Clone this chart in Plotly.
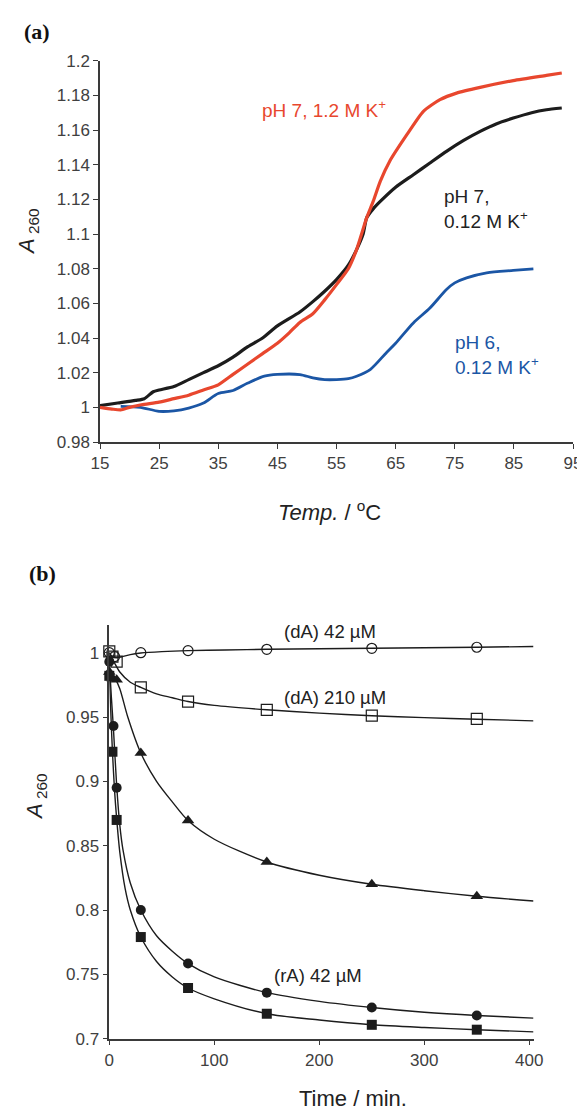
import plotly.graph_objects as go

# ---------------- Panel (a): melting curves ----------------
temp_black = [15, 18, 21, 22.5, 24, 25, 27.5, 30, 32.5, 35, 37.5, 40, 42.5, 45, 48.8, 51,
              53, 55, 57, 58.4, 59.5, 60.1, 61.2, 62.4, 65, 68, 70.8, 73.6, 76.5, 79.3,
              82, 84.9, 88, 90.5, 93.1]
a_black = [1.001, 1.0025, 1.004, 1.005, 1.009, 1.010, 1.012, 1.016, 1.020, 1.024, 1.029,
           1.035, 1.040, 1.047, 1.055, 1.061, 1.067, 1.0737, 1.082, 1.091, 1.100, 1.1093,
           1.1145, 1.1188, 1.127, 1.1342, 1.141, 1.1477, 1.154, 1.1592, 1.1635, 1.1669,
           1.1700, 1.1717, 1.1727]

temp_red = [15, 17, 18.5, 20, 22, 25, 27.5, 30, 32.5, 35, 37.5, 40, 42.5, 45, 47, 48.8,
            51, 53, 55, 57, 58.4, 60.1, 61.2, 62.4, 64, 66.9, 69.7, 72.5, 75.3, 79.3,
            84.9, 90.5, 93.1]
a_red = [1.000, 0.999, 0.9985, 1.000, 1.0015, 1.003, 1.005, 1.007, 1.010, 1.013, 1.019,
         1.025, 1.031, 1.037, 1.043, 1.049, 1.054, 1.062, 1.0708, 1.080, 1.091, 1.1093,
         1.1188, 1.1304, 1.142, 1.1573, 1.1708, 1.1775, 1.1813, 1.1846, 1.1885, 1.1915,
         1.1929]

temp_blue = [18.5, 21.8, 25, 27.5, 30, 32.5, 35, 37.5, 40, 42.8, 45, 48.8, 51, 53, 55, 57,
             58.4, 60.7, 63.4, 65, 68, 70.8, 73.6, 75, 77, 80.4, 84.9, 88.3]
a_blue = [1.0006, 1.000, 0.9977, 0.998, 0.9996, 1.0025, 1.008, 1.0097, 1.014, 1.018, 1.019,
          1.0189, 1.017, 1.016, 1.016, 1.0165, 1.0179, 1.0218, 1.0314, 1.037, 1.0487,
          1.0573, 1.068, 1.0718, 1.0747, 1.0776, 1.079, 1.0799]

a_xticks = [15, 25, 35, 45, 55, 65, 75, 85, 95]
a_yticks = [0.98, 1.0, 1.02, 1.04, 1.06, 1.08, 1.1, 1.12, 1.14, 1.16, 1.18, 1.2]
a_yticklabels = ["0.98", "1", "1.02", "1.04", "1.06", "1.08", "1.1", "1.12", "1.14",
                 "1.16", "1.18", "1.2"]

# ---------------- Panel (b): kinetics ----------------
# measured points
t_dA42 = [0, 5, 30, 75, 150, 250, 350]
y_dA42 = [1.000, 0.997, 1.000, 1.0016, 1.0026, 1.0034, 1.0042]
t_dA210 = [0, 3, 7, 30, 75, 150, 250, 350]
y_dA210 = [1.001, 0.997, 0.993, 0.973, 0.962, 0.9556, 0.951, 0.9485]
t_tri = [0, 3, 7, 30, 75, 150, 250, 350]
y_tri = [0.985, 0.980, 0.979, 0.922, 0.8695, 0.8373, 0.820, 0.8107]
t_rA42 = [0, 4, 7, 30, 75, 150, 250, 350]
y_rA42 = [0.993, 0.943, 0.895, 0.800, 0.7584, 0.7358, 0.7242, 0.718]
t_sq = [0, 3, 7, 30, 75, 150, 250, 350]
y_sq = [0.982, 0.923, 0.870, 0.779, 0.7394, 0.7194, 0.7108, 0.707]

# fitted curves
ft_dA42 = [0, 3, 7, 12, 20, 30, 50, 75, 110, 150, 200, 250, 300, 350, 404]
fy_dA42 = [1.000, 0.9965, 0.9960, 0.9968, 0.9985, 0.9997, 1.0008, 1.0016, 1.0021, 1.0026,
           1.0030, 1.0034, 1.0038, 1.0042, 1.0048]
ft_dA210 = [0, 2, 5, 10, 20, 30, 45, 60, 75, 100, 150, 200, 250, 300, 350, 404]
fy_dA210 = [1.000, 0.997, 0.992, 0.985, 0.977, 0.973, 0.968, 0.965, 0.962, 0.959, 0.9556,
            0.953, 0.951, 0.9495, 0.9483, 0.947]
ft_tri = [0, 5, 10, 17.6, 30, 45, 60, 75, 100, 150, 200, 250, 300, 350, 404]
fy_tri = [0.988, 0.981, 0.972, 0.950, 0.922, 0.900, 0.884, 0.8695, 0.855, 0.8373, 0.827,
          0.820, 0.815, 0.8107, 0.807]
ft_rA42 = [0, 2, 4, 7, 10, 13, 20, 30, 45, 60, 75, 100, 150, 200, 250, 300, 350, 404]
fy_rA42 = [0.993, 0.965, 0.940, 0.897, 0.866, 0.847, 0.821, 0.800, 0.780, 0.768, 0.7584,
           0.748, 0.7358, 0.729, 0.7242, 0.7205, 0.718, 0.716]
ft_sq = [0, 2, 3, 5, 7, 10, 15, 20, 30, 45, 60, 75, 100, 150, 200, 250, 300, 350, 404]
fy_sq = [0.985, 0.942, 0.923, 0.893, 0.871, 0.845, 0.817, 0.800, 0.779, 0.760, 0.748,
         0.7394, 0.731, 0.7194, 0.7145, 0.7108, 0.7087, 0.707, 0.7053]

b_xticks = [0, 100, 200, 300, 400]
b_yticks = [0.7, 0.75, 0.8, 0.85, 0.9, 0.95, 1.0]
b_yticklabels = ["0.7", "0.75", "0.8", "0.85", "0.9", "0.95", "1"]

RED = "#E8472E"
BLUE = "#1B56A5"
BLACK = "#1c1c1c"
AXC = "#3a3a3a"
FONT = "Liberation Sans, Arial, sans-serif"

# the page body adds an 8 px margin, so the figure is placed 8 px in
OFF = 8
W, H = 585 - OFF, 1113 - OFF
def px(x):
    return (x - OFF) / W
def py(y):
    return 1 - (y - OFF) / H

fig = go.Figure()

fig.add_trace(go.Scatter(x=temp_black, y=a_black, mode="lines",
                         line=dict(color=BLACK, width=3.2, shape="spline", smoothing=0.6),
                         xaxis="x", yaxis="y"))
fig.add_trace(go.Scatter(x=temp_blue, y=a_blue, mode="lines",
                         line=dict(color=BLUE, width=2.8, shape="spline", smoothing=0.8),
                         xaxis="x", yaxis="y"))
fig.add_trace(go.Scatter(x=temp_red, y=a_red, mode="lines",
                         line=dict(color=RED, width=3.2, shape="spline", smoothing=0.6),
                         xaxis="x", yaxis="y"))

# fitted lines panel b
for ft, fy in [(ft_dA42, fy_dA42), (ft_dA210, fy_dA210), (ft_tri, fy_tri),
               (ft_rA42, fy_rA42), (ft_sq, fy_sq)]:
    fig.add_trace(go.Scatter(x=ft, y=fy, mode="lines",
                             line=dict(color=BLACK, width=1.4, shape="spline", smoothing=0.8),
                             xaxis="x2", yaxis="y2"))

mk_line = dict(color=BLACK, width=1.2)
fig.add_trace(go.Scatter(x=t_dA42, y=y_dA42, mode="markers", cliponaxis=False,
                         marker=dict(symbol="circle-open", size=10, color=BLACK, line=mk_line),
                         xaxis="x2", yaxis="y2"))
fig.add_trace(go.Scatter(x=t_dA210, y=y_dA210, mode="markers", cliponaxis=False,
                         marker=dict(symbol="square-open", size=11, color=BLACK, line=mk_line),
                         xaxis="x2", yaxis="y2"))
fig.add_trace(go.Scatter(x=t_tri, y=y_tri, mode="markers", cliponaxis=False,
                         marker=dict(symbol="triangle-up", size=11, color=BLACK),
                         xaxis="x2", yaxis="y2"))
fig.add_trace(go.Scatter(x=t_rA42, y=y_rA42, mode="markers", cliponaxis=False,
                         marker=dict(symbol="circle", size=10, color=BLACK),
                         xaxis="x2", yaxis="y2"))
fig.add_trace(go.Scatter(x=t_sq, y=y_sq, mode="markers", cliponaxis=False,
                         marker=dict(symbol="square", size=10, color=BLACK),
                         xaxis="x2", yaxis="y2"))

axis_common = dict(showline=True, linecolor=AXC, linewidth=1.5, ticks="outside",
                   ticklen=5, tickwidth=1.3, tickcolor=AXC, showgrid=False, zeroline=False,
                   automargin=False,
                   tickfont=dict(family=FONT, size=17, color="#404040"), fixedrange=True)

fig.update_layout(
    width=W, height=H, margin=dict(l=0, r=0, t=0, b=0, pad=0, autoexpand=False),
    showlegend=False, plot_bgcolor="white", paper_bgcolor="white",
    xaxis=dict(domain=[px(100), px(573)], range=[15, 95], tickvals=a_xticks,
               anchor="y", **axis_common),
    yaxis=dict(domain=[py(442), py(60.7)], range=[0.98, 1.2], tickvals=a_yticks,
               ticktext=a_yticklabels, anchor="x", **axis_common),
    xaxis2=dict(domain=[px(109.3), px(533.5)], range=[0, 404], tickvals=b_xticks,
                anchor="y2", **axis_common),
    yaxis2=dict(domain=[py(1038.7), py(625)], range=[0.7, 1.0215], tickvals=b_yticks,
                ticktext=b_yticklabels, anchor="x2", **axis_common),
)

ann = []
def label(text, x, y, color, ref="1", size=19, xanchor="left"):
    ann.append(dict(text=text, x=x, y=y, xref="x" if ref == "1" else "x2",
                    yref="y" if ref == "1" else "y2", showarrow=False, xanchor=xanchor,
                    yanchor="middle", align="left",
                    font=dict(family=FONT, size=size, color=color)))

label("pH 7, 1.2 M K<sup>+</sup>", 42.0, 1.1719, RED)
label("pH 7,<br>0.12 M K<sup>+</sup>", 72.9, 1.1145, "#222222")
label("pH 6,<br>0.12 M K<sup>+</sup>", 74.7, 1.0304, BLUE)
label("(dA) 42 µM", 164, 1.0165, "#222222", ref="2", size=18.5)
label("(dA) 210 µM", 164, 0.9655, "#222222", ref="2", size=18.5)
label("(rA) 42 µM", 154.5, 0.7495, "#222222", ref="2", size=18.5)

def paper_text(text, x, y, size, family=FONT, angle=0, color="#222222"):
    ann.append(dict(text=text, x=px(x), y=py(y), xref="paper", yref="paper",
                    showarrow=False, xanchor="center", yanchor="middle", textangle=angle,
                    font=dict(family=family, size=size, color=color)))

paper_text("<b>(a)</b>", 37, 31, 22, family="Liberation Serif, Times New Roman, serif",
           color="#111111")
paper_text("<b>(b)</b>", 42, 573, 22, family="Liberation Serif, Times New Roman, serif",
           color="#111111")
paper_text("<i>A</i><sub> 260</sub>", 28, 232, 22, angle=-90)
paper_text("<i>A</i><sub> 260</sub>", 36, 797, 22, angle=-90)
paper_text("<i>Temp.</i> / <sup>o</sup>C", 329, 511, 22)
paper_text("Time / min.", 353, 1098, 22)

fig.update_layout(annotations=ann)

fig.write_html("out.html")
